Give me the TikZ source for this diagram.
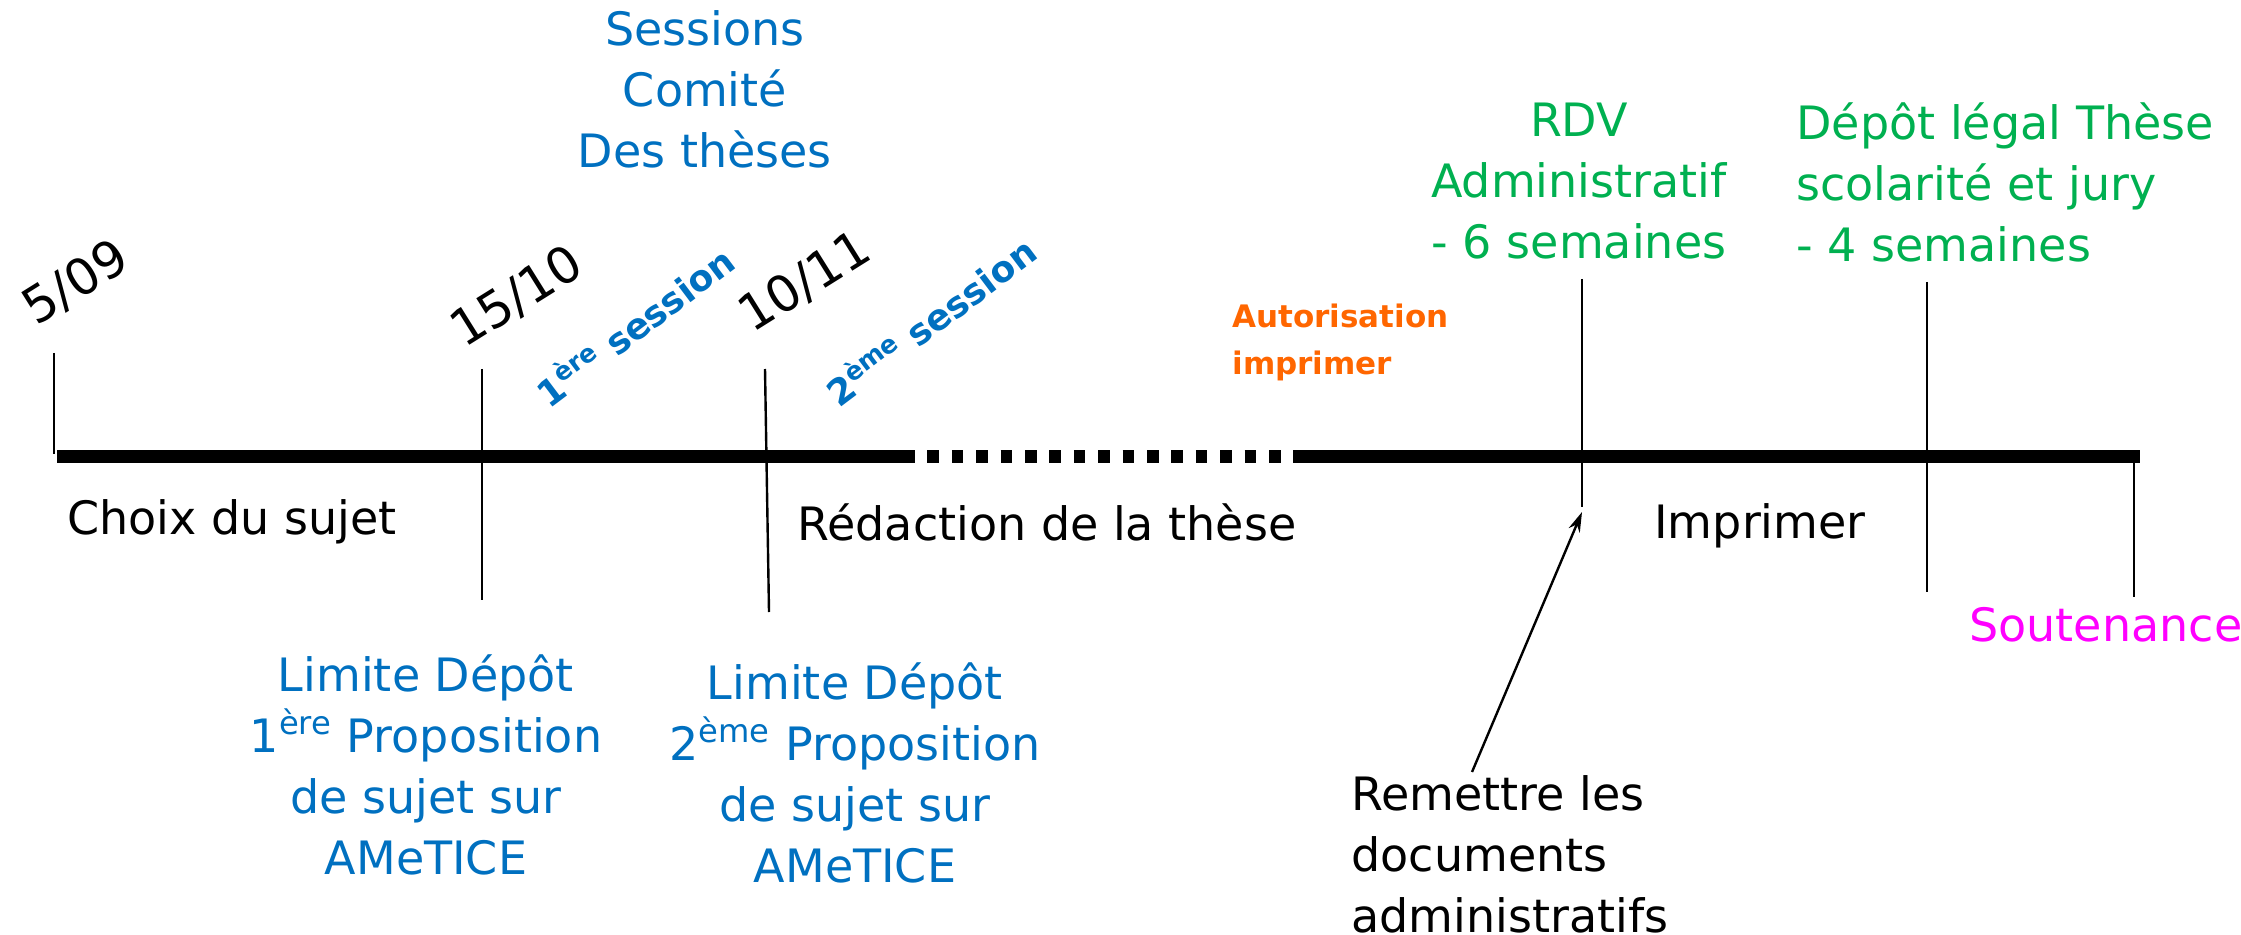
\documentclass[tikz,border=0pt]{standalone}
\usepackage{fontspec}
\setmainfont{DejaVu Sans}
\usetikzlibrary{arrows.meta}
\definecolor{cblue}{HTML}{0070C0}
\definecolor{cgreen}{HTML}{00B050}
\definecolor{corange}{HTML}{FF6600}
\definecolor{cmag}{HTML}{FF00FF}
\begin{document}
\begin{tikzpicture}[x=0.5pt,y=-0.5pt,
  txt/.style={font=\fontsize{23}{30.5}\selectfont, inner sep=0pt, align=center},
  date/.style={font=\fontsize{25}{30}\selectfont, inner sep=0pt, rotate=32},
  sess/.style={font=\bfseries\fontsize{18}{20}\selectfont, inner sep=0pt, text=cblue, rotate=37},
  bar/.style={line width=6.5pt},
  tick/.style={line width=1.2pt}]
\useasboundingbox (0,0) rectangle (2241,935);
% main bar
\coordinate (b0) at (57,456);
\coordinate (b1) at (903,456);
\coordinate (b2) at (1293,456);
\coordinate (b3) at (2140,456);
\draw[bar] (b0) -- (b1);
\draw[bar, dash pattern=on 5.8pt off 6.4pt] (b1) -- (b2);
\draw[bar] (b2) -- (b3);
% ticks
\draw[tick] (54,353) -- (54,454);
\draw[tick] (482,369) -- (482,600);
\draw[tick] (765,369) -- (769,612);
\draw[tick] (1582,279) -- (1582,507);
\draw[tick] (1927,282) -- (1927,592);
\draw[tick] (2134,456) -- (2134,597);
% dates
\node[date] (d1) at (76,283) {5/09};
\node[date] (d2) at (517,297) {15/10};
\node[date] (d3) at (805,282) {10/11};
\node[sess] (s1) at (634,325) {1\textsuperscript{ère} session};
\node[sess] (s2) at (930,320) {2\textsuperscript{ème} session};
% top texts
\node[txt, text=cblue] (com) at (705,89) {Sessions\\Comité\\Des thèses};
\node[font=\bfseries\fontsize{15.5}{23.5}\selectfont, inner sep=0pt, align=left, text=corange, anchor=west] (aut) at (1232,342) {Autorisation\\imprimer};
\node[txt, text=cgreen] (rdv) at (1579,181) {RDV\\Administratif\\- 6 semaines};
\node[txt, text=cgreen, align=left, anchor=west] (dep) at (1796,182) {Dépôt légal Thèse\\scolarité et jury\\- 4 semaines};
% phase labels
\node[txt, anchor=west] (p1) at (67,522) {Choix du sujet};
\node[txt, anchor=west] (p2) at (797,522) {Rédaction de la thèse};
\node[txt, anchor=west] (p3) at (1654,526) {Imprimer};
\node[txt, anchor=west, text=cmag] (sout) at (1969,625) {Soutenance};
% bottom texts
\node[txt, text=cblue] (lim1) at (426,765) {Limite Dépôt\\1\textsuperscript{ère} Proposition\\de sujet sur\\AMeTICE};
\node[txt, text=cblue] (lim2) at (855,773) {Limite Dépôt\\2\textsuperscript{ème} Proposition\\de sujet sur\\AMeTICE};
\node[txt, align=left, anchor=west] (rem) at (1351,854) {Remettre les\\documents\\administratifs};
% arrow
\coordinate (aS) at (1472,772);
\coordinate (aE) at (1582,512);
\draw[line width=1.2pt, -{Stealth[length=10pt,width=6pt]}] (aS) -- (aE);
\end{tikzpicture}
\end{document}
